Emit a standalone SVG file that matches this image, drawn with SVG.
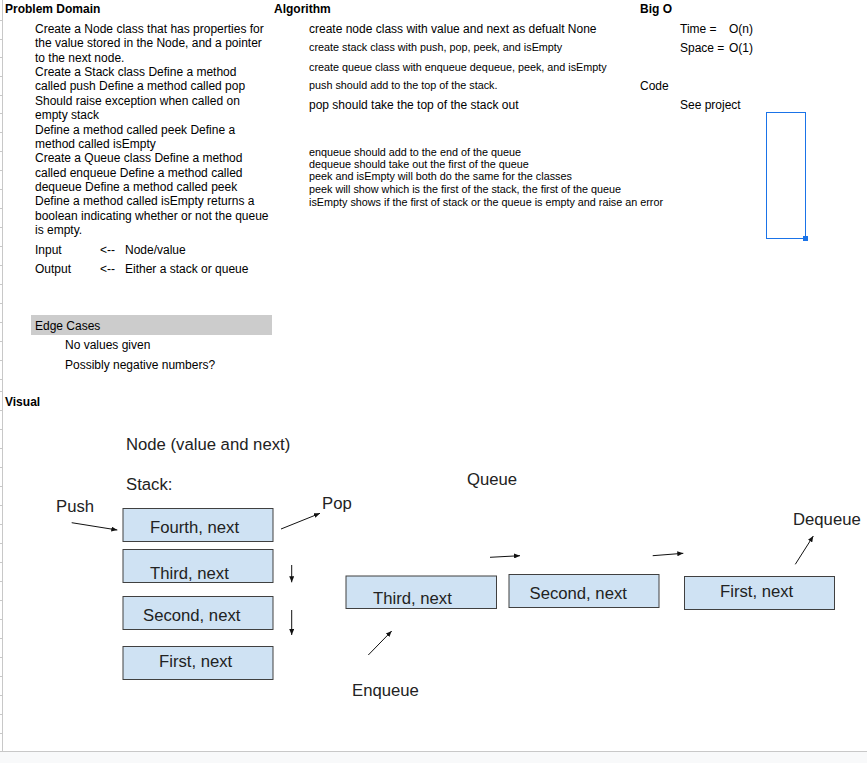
<svg xmlns="http://www.w3.org/2000/svg" width="867" height="763" viewBox="0 0 867 763">
<style>
text{font-family:"Liberation Sans",Arial,sans-serif;fill:#000}
.h{font-size:12px;font-weight:bold}
.b{font-size:12px}
.s{font-size:10.8px}
.v{font-size:16.7px;fill:#222}
.box{fill:#cfe2f3;stroke:#404040;stroke-width:1}
.c{stroke:#111;stroke-width:1;fill:none;marker-end:url(#ah)}
.grid{stroke:#c8c8c8;stroke-width:1;fill:none}
</style>
<defs>
<marker id="ah" markerUnits="userSpaceOnUse" markerWidth="7" markerHeight="5" refX="6" refY="2.5" orient="auto">
<path d="M0,0 L6,2.5 L0,5 z" fill="#111"/>
</marker>
</defs>
<rect width="867" height="763" fill="#fff"/>
<rect x="0" y="752" width="867" height="11" fill="#f8f9fa"/>
<g id="grid">
<path class="grid" d="M2.5,0 V752 M0,751.5 H867"/>
<path class="grid" d="M0,20.5h2.5M0,39.5h2.5M0,57.5h2.5M0,76.5h2.5M0,95.5h2.5M0,113.5h2.5M0,132.5h2.5M0,151.5h2.5M0,170.5h2.5M0,189.5h2.5M0,208.5h2.5M0,227.5h2.5M0,246.5h2.5M0,265.5h2.5M0,284.5h2.5M0,303.5h2.5M0,322.5h2.5M0,341.5h2.5M0,360.5h2.5M0,379.5h2.5M0,391.5h2.5M0,410.5h2.5M0,429.5h2.5M0,448.5h2.5M0,467.5h2.5M0,486.5h2.5M0,505.5h2.5M0,524.5h2.5M0,543.5h2.5M0,562.5h2.5M0,581.5h2.5M0,600.5h2.5M0,619.5h2.5M0,638.5h2.5M0,657.5h2.5M0,676.5h2.5M0,695.5h2.5M0,714.5h2.5M0,733.5h2.5"/>
</g>
<g id="problem-domain">
<text class="h" x="5" y="13">Problem Domain</text>
<text class="b" x="35" y="33">Create a Node class that has properties for</text>
<text class="b" x="35" y="47.4">the value stored in the Node, and a pointer</text>
<text class="b" x="35" y="61.7">to the next node.</text>
<text class="b" x="35" y="76.1">Create a Stack class Define a method</text>
<text class="b" x="35" y="90.4">called push Define a method called pop</text>
<text class="b" x="35" y="104.8">Should raise exception when called on</text>
<text class="b" x="35" y="119.2">empty stack</text>
<text class="b" x="35" y="133.5">Define a method called peek Define a</text>
<text class="b" x="35" y="147.9">method called isEmpty</text>
<text class="b" x="35" y="162.2">Create a Queue class Define a method</text>
<text class="b" x="35" y="176.6">called enqueue Define a method called</text>
<text class="b" x="35" y="191">dequeue Define a method called peek</text>
<text class="b" x="35" y="205.3">Define a method called isEmpty returns a</text>
<text class="b" x="35" y="219.7">boolean indicating whether or not the queue</text>
<text class="b" x="35" y="234">is empty.</text>
<text class="b" x="35" y="254">Input</text>
<text class="b" x="100" y="254">&lt;--</text>
<text class="b" x="125" y="254">Node/value</text>
<text class="b" x="35" y="273">Output</text>
<text class="b" x="100" y="273">&lt;--</text>
<text class="b" x="125" y="273">Either a stack or queue</text>
</g>
<g id="algorithm">
<text class="h" x="274" y="13">Algorithm</text>
<text class="b" x="309" y="33">create node class with value and next as defualt None</text>
<text class="s" x="309" y="51">create stack class with push, pop, peek, and isEmpty</text>
<text class="s" x="309" y="70.5">create queue class with enqueue dequeue, peek, and isEmpty</text>
<text class="s" x="309" y="89">push should add to the top of the stack.</text>
<text class="b" x="309" y="109">pop should take the top of the stack out</text>
<text class="s" x="309" y="155.5">enqueue should add to the end of the queue</text>
<text class="s" x="309" y="167.5">dequeue should take out the first of the queue</text>
<text class="s" x="309" y="180">peek and isEmpty will both do the same for the classes</text>
<text class="s" x="309" y="192.5">peek will show which is the first of the stack, the first of the queue</text>
<text class="s" x="309" y="205.5">isEmpty shows if the first of stack or the queue is empty and raise an error</text>
</g>
<g id="big-o">
<text class="h" x="640" y="13">Big O</text>
<text class="b" x="680" y="33">Time =</text>
<text class="b" x="729" y="33">O(n)</text>
<text class="b" x="680" y="52">Space =</text>
<text class="b" x="729" y="52">O(1)</text>
</g>
<g id="code">
<text class="b" x="640" y="90">Code</text>
<text class="b" x="680" y="109">See project</text>
<rect x="766.5" y="112.5" width="39" height="126" fill="none" stroke="#1a73e8" stroke-width="1"/>
<rect x="803" y="236" width="5" height="5" fill="#1a73e8"/>
</g>
<g id="edge-cases">
<rect x="31" y="315" width="241" height="20" fill="#cccccc"/>
<text class="b" x="35" y="330">Edge Cases</text>
<text class="b" x="65" y="349">No values given</text>
<text class="b" x="65" y="368.5">Possibly negative numbers?</text>
</g>
<g id="visual-label">
<text class="h" x="5" y="406">Visual</text>
</g>
<g id="labels">
<text class="v" x="126" y="450">Node (value and next)</text>
<text class="v" x="126" y="490">Stack:</text>
<text class="v" x="467" y="484.5">Queue</text>
<text class="v" x="56" y="512">Push</text>
<text class="v" x="322" y="509">Pop</text>
<text class="v" x="793" y="525">Dequeue</text>
<text class="v" x="352" y="696">Enqueue</text>
</g>
<g id="stack-fourth">
<rect class="box" x="123" y="508.5" width="150" height="33"/>
<text class="v" x="150" y="532.5">Fourth, next</text>
</g>
<g id="stack-third">
<rect class="box" x="123" y="549.5" width="150" height="33"/>
<text class="v" x="150" y="578.5">Third, next</text>
</g>
<g id="stack-second">
<rect class="box" x="123" y="596.5" width="150" height="33"/>
<text class="v" x="143" y="621">Second, next</text>
</g>
<g id="stack-first">
<rect class="box" x="123" y="646.5" width="150" height="33"/>
<text class="v" x="159" y="667">First, next</text>
</g>
<g id="queue-third">
<rect class="box" x="346" y="576" width="150.5" height="32.5"/>
<text class="v" x="373" y="604">Third, next</text>
</g>
<g id="queue-second">
<rect class="box" x="509" y="574.5" width="150" height="33"/>
<text class="v" x="529.5" y="599">Second, next</text>
</g>
<g id="queue-first">
<rect class="box" x="684.5" y="576.5" width="150" height="33"/>
<text class="v" x="720" y="596.5">First, next</text>
</g>
<g id="connectors">
<line class="c" x1="71.7" y1="522.7" x2="117.3" y2="530"/>
<line class="c" x1="281" y1="529" x2="320" y2="513.3"/>
<line class="c" x1="291.7" y1="565" x2="291.7" y2="582.3"/>
<line class="c" x1="291.7" y1="610" x2="291.7" y2="635"/>
<line class="c" x1="490" y1="557.3" x2="520" y2="555.7"/>
<line class="c" x1="652.7" y1="555.7" x2="683.3" y2="553.3"/>
<line class="c" x1="795.3" y1="564.3" x2="813.3" y2="536"/>
<line class="c" x1="368.3" y1="655" x2="391.7" y2="631"/>
</g>
</svg>
